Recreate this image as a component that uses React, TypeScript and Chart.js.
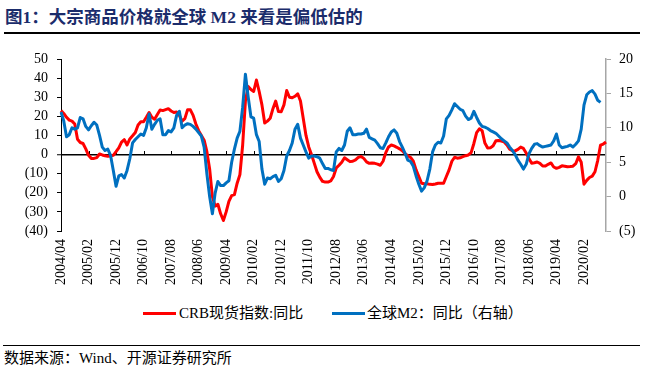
import React, { useEffect, useRef } from "react";
import { Chart, registerables } from "chart.js";

Chart.register(...registerables);

const TITLE = "图1：大宗商品价格就全球 M2 来看是偏低估的";
const SOURCE = "数据来源：Wind、开源证券研究所";
const CRB_LABEL = "CRB现货指数:同比";
const M2_LABEL = "全球M2：同比（右轴）";

const START_YEAR = 2004;
const START_MONTH = 4;

// CRB spot index YoY (%), left axis, monthly from 2004/04
const crbYoY = [
  23, 21.5, 19.5, 18, 17.5, 16, 8, 6.3, 5.8, 3,
  -0.4, -2, -2, -1.6, 0.3, -0.2, -0.6, -0.9, -0.7, -0.4,
  1.5, 3.5, 6.5, 7.8, 5, 8.2, 9.8, 11.5, 15.5, 17.2,
  17.2, 19.5, 22, 19.5, 18.5, 21, 23.3, 23, 23.5, 24,
  22.8, 22, 22.3, 20.5, 17.5, 18.8, 23.5, 23.4, 20.5, 16,
  12.5, 10, 7.5, 1.5, -7.5, -22, -27, -26, -31, -34.5,
  -30, -24.5, -21.5, -21, -15, -10.5, 5, 28, 35.6, 34,
  33, 39, 33, 26, 16.5, 17.5, 19, 24, 28, 22.5,
  22.4, 26, 33.5, 30, 29.7, 30.5, 31.8, 28, 19, 10,
  4, 0, -4.5, -9, -11.8, -14, -14.4, -14.4, -13.8, -11.5,
  -7, -5.6, -4, -1.7, -2.7, -3.7, -3.5, -2.8, -1.5, -1,
  -2, -3.8, -4.6, -4.4, -4.6, -5, -5.6, -3.5, 1, 4,
  5, 4.5, 3.8, 3, 2, 0.5, -0.6, -1.5, -3.5, -8,
  -11.5, -15, -15.3, -15.3, -15.6, -15.7, -15.4, -15, -15, -15,
  -11.5, -8, -3.5, -1.4, -1.9, -1.7, -1.1, -0.6, -0.2, 1,
  5.8, 11.5, 13.5, 12.5, 6, 3.4, 3.5, 4.6, 7.2, 7.4,
  7.1, 6.6, 5, 2.8, 2, 1.9, 2.7, 3.9, 3.2, 0.8,
  -2, -4.5, -4.3, -3.9, -4.6, -6, -6, -5.1, -4.4, -6.5,
  -7.2, -6.7, -5.9, -6.1, -6.4, -6.3, -6.1, -4.8, -1.2, -4,
  -15.5, -13.5, -12, -11.3, -9, -3, 4.9, 5.5, 6.6,
];

// Global M2 YoY (%), right axis, monthly from 2004/04
const m2YoY = [
  12.3, 11, 8.7, 9, 10, 9.8, 10, 11.5, 11.3, 10.2,
  9.7, 10.3, 10.8, 10.4, 8.9, 7.2, 6.7, 6.9, 6, 3.8,
  1.5, 3, 3.2, 2.7, 3.8, 5.5, 7.8, 8.3, 8.7, 9.1,
  8.9, 10, 12, 9.8, 10.5, 11.1, 11.3, 9, 9, 9.6,
  9.4, 10, 11.8, 12.4, 10, 10.4, 10.6, 10.5, 10.2, 9.8,
  9.3, 8.8, 7.2, 3.3, 0, -2.5, 0.5, 2.2, 1.6, 1.6,
  2, 2.3, 5, 6.9, 8.5, 9.5, 13, 17.8, 14.5, 11.6,
  11.4, 9, 8, 4, 1.8, 2.7, 2.6, 2.9, 3.1, 2.2,
  2.6, 3.8, 5.9, 6.7, 7.8, 9.8, 10.5, 8.5, 7.5, 6.5,
  5.6, 5.9, 5.9, 5.8, 5.6, 4.8, 4.1, 4.1, 3.9, 3.8,
  6.5, 7, 6.7, 7.5, 9.5, 10, 9, 9, 9.1, 9.1,
  9.2, 9.8, 8.6, 8.4, 8.2, 7.7, 7.1, 7, 7.8, 8.7,
  9.4, 9.7, 9.2, 8, 7.2, 6.3, 5.3, 5.1, 4.4, 3,
  1.8, 0.8, 1.3, 2.3, 4, 6.5, 7.5, 7.9, 7.8, 8.8,
  11.3, 11.8, 12.6, 13.5, 13.1, 12.7, 12.5, 11.7, 11.2, 11.4,
  12.4, 11.5, 10.7, 10.2, 10.1, 9.9, 9.6, 9.4, 9.2, 8.8,
  8.4, 8.1, 7.8, 7.2, 6.7, 6.1, 5.3, 4.7, 4, 4.7,
  6.2, 7, 7.6, 7.7, 7.4, 7.2, 7.3, 7.4, 7.5, 8.1,
  9.1, 7.5, 7.1, 7.2, 7.3, 7.5, 7.2, 7.6, 8.1, 9.8,
  13.3, 14.8, 15.2, 15.4, 14.9, 14, 13.7,
];

const tickLabels = [
  "2004/04", "2005/02", "2005/12", "2006/10", "2007/08", "2008/06", "2009/04",
  "2010/02", "2010/12", "2011/10", "2012/08", "2013/06", "2014/04", "2015/02",
  "2015/12", "2016/10", "2017/08", "2018/06", "2019/04", "2020/02",
];

const months: string[] = [];
for (let i = 0; i < crbYoY.length; i++) {
  const t = START_YEAR * 12 + (START_MONTH - 1) + i;
  const y = Math.floor(t / 12);
  const m = (t % 12) + 1;
  months.push(`${y}/${m < 10 ? "0" + m : m}`);
}

const SERIF = '"Times New Roman", "Liberation Serif", "Noto Sans CJK SC", serif';
const NAVY = "#1B2C6B";
const RED = "#FF0000";
const BLUE = "#0070C0";
const AXIS_GRAY = "#A6A6A6";

const fmt = (v: number) => (v < 0 ? `(${-v})` : `${v}`);

const zeroTicks = {
  id: "zeroTicks",
  beforeDatasetsDraw(chart: any) {
    const xs = chart.scales.x;
    const ys = chart.scales.y;
    const ctx = chart.ctx;
    const y0 = Math.round(ys.getPixelForValue(0));
    ctx.save();
    ctx.strokeStyle = "#000";
    ctx.lineWidth = 1;
    months.forEach((m, i) => {
      if (tickLabels.includes(m)) {
        const px = Math.round(xs.getPixelForValue(i)) + 0.5;
        ctx.beginPath();
        ctx.moveTo(px, y0);
        ctx.lineTo(px, y0 - 4);
        ctx.stroke();
      }
    });
    ctx.restore();
  },
};

export default function App() {
  const ref = useRef<HTMLCanvasElement>(null);

  useEffect(() => {
    if (!ref.current) return;
    Chart.defaults.font.family = '"Times New Roman", "Liberation Serif", serif';
    const chart = new Chart(ref.current, {
      type: "line",
      data: {
        labels: months,
        datasets: [
          {
            label: CRB_LABEL,
            data: crbYoY,
            yAxisID: "y",
            borderColor: RED,
            backgroundColor: RED,
            borderWidth: 3,
            pointRadius: 0,
            tension: 0,
            borderJoinStyle: "round",
            order: 1,
          },
          {
            label: M2_LABEL,
            data: m2YoY,
            yAxisID: "y2",
            borderColor: BLUE,
            backgroundColor: BLUE,
            borderWidth: 3,
            pointRadius: 0,
            tension: 0,
            borderJoinStyle: "round",
            order: 0,
          },
        ],
      },
      options: {
        responsive: false,
        animation: false,
        devicePixelRatio: 1,
        layout: { padding: { top: 19, left: 0, right: 0, bottom: 0 } },
        plugins: { legend: { display: false }, tooltip: { enabled: false } },
        scales: {
          x: {
            type: "category",
            offset: false,
            grid: { display: false, drawTicks: false },
            border: { display: false },
            ticks: {
              autoSkip: false,
              maxRotation: 90,
              minRotation: 90,
              padding: 8,
              color: "#000",
              font: { size: 14 },
              callback: (_v: any, i: number) => (tickLabels.includes(months[i]) ? months[i] : ""),
            },
            afterFit: (s: any) => {
              s.height = 69;
            },
          },
          y: {
            position: "left",
            min: -40,
            max: 50,
            ticks: {
              stepSize: 10,
              autoSkip: false,
              padding: 9,
              color: "#000",
              font: { size: 14 },
              callback: (v: any) => fmt(Number(v)),
            },
            grid: {
              color: (c: any) => (c.tick && c.tick.value === 0 ? "#000" : "rgba(0,0,0,0)"),
              lineWidth: (c: any) => (c.tick && c.tick.value === 0 ? 1.5 : 1),
              tickColor: "#000",
              tickLength: 4,
              tickWidth: 1,
              drawTicks: true,
            },
            border: { color: "#000", width: 1 },
            afterFit: (s: any) => {
              s.width = 61;
            },
          },
          y2: {
            position: "right",
            min: -5,
            max: 20,
            ticks: {
              stepSize: 5,
              autoSkip: false,
              padding: 8,
              color: "#000",
              font: { size: 14 },
              callback: (v: any) => fmt(Number(v)),
            },
            grid: {
              drawOnChartArea: false,
              color: AXIS_GRAY,
              tickColor: AXIS_GRAY,
              tickLength: 5,
              tickWidth: 1,
            },
            border: { color: AXIS_GRAY, width: 1.5 },
            afterFit: (s: any) => {
              s.width = 41;
            },
          },
        },
      },
      plugins: [zeroTicks],
    } as any);
    return () => chart.destroy();
  }, []);

  const textBase: React.CSSProperties = {
    position: "absolute",
    whiteSpace: "nowrap",
    fontFamily: SERIF,
    color: "#000",
  };

  return (
    <div
      style={{
        position: "absolute",
        left: 0,
        top: 0,
        width: 647,
        height: 373,
        background: "#fff",
        overflow: "hidden",
      }}
    >
      <div
        style={{
          ...textBase,
          left: 5,
          top: 5,
          fontSize: 17.5,
          fontWeight: "bold",
          lineHeight: "24px",
          color: NAVY,
        }}
      >
        {TITLE}
      </div>
      <div style={{ position: "absolute", left: 4, top: 32, width: 636, height: 1.5, background: "#000" }} />
      <canvas
        ref={ref}
        width={647}
        height={260}
        style={{ position: "absolute", left: 0, top: 40, width: 647, height: 260 }}
      />
      <div style={{ position: "absolute", left: 143, top: 312, width: 33, height: 3, background: RED }} />
      <div style={{ ...textBase, left: 179, top: 303, fontSize: 15, lineHeight: "20px" }}>{CRB_LABEL}</div>
      <div style={{ position: "absolute", left: 332, top: 312, width: 33, height: 3, background: BLUE }} />
      <div style={{ ...textBase, left: 367, top: 303, fontSize: 15, lineHeight: "20px" }}>{M2_LABEL}</div>
      <div style={{ position: "absolute", left: 3, top: 344.5, width: 637, height: 1.5, background: "#000" }} />
      <div style={{ ...textBase, left: 4, top: 348, fontSize: 15, lineHeight: "20px" }}>{SOURCE}</div>
    </div>
  );
}
